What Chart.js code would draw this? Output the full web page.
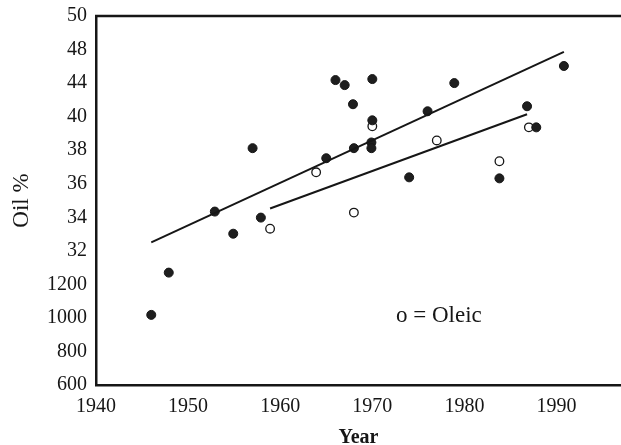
<!DOCTYPE html>
<html>
<head>
<meta charset="utf-8">
<script src="https://cdn.jsdelivr.net/npm/chart.js@4"></script>
<style>
  html, body { margin: 0; padding: 0; background: #fff; overflow: hidden; }
  #wrap { width: 621px; height: 445px; }
</style>
</head>
<body>
<div id="wrap"><canvas id="grafico"></canvas></div>
<script>
// tick labels of the y axis, as printed (evenly spaced positions 0..11)
const yTickLabels = ['600', '800', '1000', '1200', '32', '34', '36', '38', '40', '44', '48', '50'];

// filled points (year, position on y axis)
const filledYears = [1946.0, 1947.9, 1952.9, 1954.9, 1957.9, 1957.0, 1965.0, 1966.0, 1967.0, 1967.9, 1968.0,
                     1970.0, 1970.0, 1969.9, 1969.9, 1974.0, 1976.0, 1978.9, 1983.8, 1986.8, 1987.8, 1990.8];
const filledValues = [2.09, 3.35, 5.17, 4.51, 4.99, 7.06, 6.76, 9.09, 8.94, 8.37, 7.06,
                      9.12, 7.89, 7.23, 7.06, 6.19, 8.16, 9.0, 6.16, 8.31, 7.68, 9.51];

// open points = oleic
const oleicYears = [1958.9, 1963.9, 1968.0, 1970.0, 1977.0, 1983.8, 1987.0];
const oleicValues = [4.66, 6.34, 5.14, 7.71, 7.29, 6.67, 7.68];

// trend lines (end points)
const trendAllYears = [1946.0, 1990.8];
const trendAllValues = [4.25, 9.93];
const trendOleicYears = [1958.9, 1986.8];
const trendOleicValues = [5.26, 8.07];

function pares(xs, ys) {
    return xs.map((x, i) => ({ x: x, y: ys[i] }));
}

const tinta = '#161616';
const fonte = "'Liberation Serif', 'DejaVu Serif', serif";

// linha de cima do quadro + texto "o = Oleic"
const extras = {
    id: 'extras',
    afterDraw(chart) {
        const c = chart.ctx;
        const a = chart.chartArea;
        c.save();
        c.strokeStyle = tinta;
        c.lineWidth = 2.5;
        c.beginPath();
        c.moveTo(a.left - 1, a.top);
        c.lineTo(chart.width, a.top);
        c.stroke();
        c.fillStyle = tinta;
        c.font = '23px ' + fonte;
        c.textBaseline = 'middle';
        c.textAlign = 'left';
        c.fillText('o = Oleic', 396, 316);
        c.restore();
    }
};

const ctx = document.getElementById('grafico').getContext('2d');

const grafico = new Chart(ctx, {
    type: 'scatter',
    data: {
        datasets: [
            {
                type: 'line',
                data: pares(trendAllYears, trendAllValues),
                borderColor: tinta,
                borderWidth: 2,
                pointRadius: 0,
                fill: false
            },
            {
                type: 'line',
                data: pares(trendOleicYears, trendOleicValues),
                borderColor: tinta,
                borderWidth: 2,
                pointRadius: 0,
                fill: false
            },
            {
                data: pares(filledYears, filledValues),
                backgroundColor: '#1e1e1e',
                borderColor: tinta,
                borderWidth: 1,
                pointRadius: 4.5
            },
            {
                data: pares(oleicYears, oleicValues),
                backgroundColor: '#ffffff',
                borderColor: tinta,
                borderWidth: 1.3,
                pointRadius: 4.3
            }
        ]
    },
    options: {
        responsive: true,
        maintainAspectRatio: false,
        animation: false,
        layout: { autoPadding: false, padding: { top: 16, right: 0, left: 0, bottom: 0 } },
        plugins: {
            legend: { display: false },
            tooltip: { enabled: false }
        },
        scales: {
            x: {
                type: 'linear',
                min: 1940,
                max: 1997,
                grid: { display: false, drawTicks: false },
                border: { display: true, color: tinta, width: 2.5 },
                ticks: {
                    stepSize: 10,
                    includeBounds: false,
                    color: tinta,
                    padding: 10,
                    maxRotation: 0,
                    font: { family: fonte, size: 20 },
                    callback: (v) => String(v)
                },
                title: {
                    display: true,
                    text: 'Year',
                    color: tinta,
                    padding: { top: 0, bottom: -5 },
                    font: { family: fonte, size: 20, weight: 'bold' }
                },
                afterFit: (scale) => {
                    scale.height = 60;
                    scale.paddingLeft = 0;
                    scale.paddingRight = 0;
                }
            },
            y: {
                type: 'linear',
                min: 0,
                max: 11,
                grid: { display: false, drawTicks: false },
                border: { display: true, color: tinta, width: 2.5 },
                ticks: {
                    stepSize: 1,
                    color: tinta,
                    padding: 9,
                    font: { family: fonte, size: 20 },
                    callback: (v) => yTickLabels[v]
                },
                title: {
                    display: true,
                    text: 'Oil %',
                    color: tinta,
                    padding: { top: 8, bottom: 0 },
                    font: { family: fonte, size: 23 }
                },
                afterFit: (scale) => {
                    scale.width = 96;
                    scale.paddingTop = 0;
                    scale.paddingBottom = 0;
                }
            }
        }
    },
    plugins: [extras]
});
</script>
</body>
</html>
